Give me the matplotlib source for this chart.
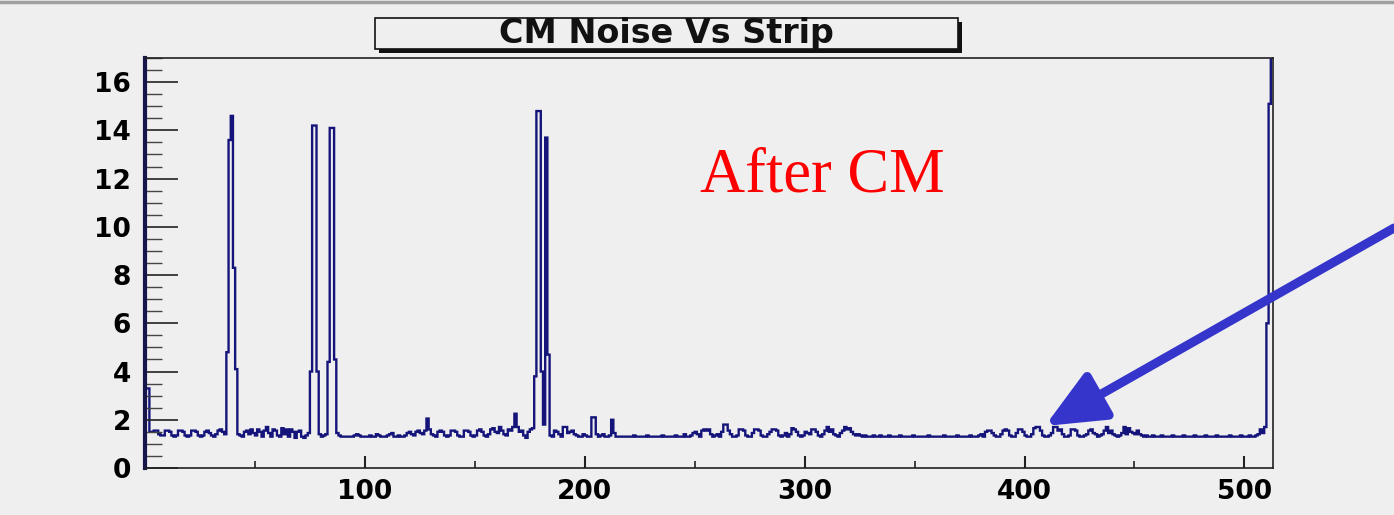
import numpy as np
import matplotlib
matplotlib.use("Agg")
import matplotlib.pyplot as plt
from matplotlib.patches import Rectangle, FancyArrowPatch, ArrowStyle
from matplotlib.lines import Line2D
from matplotlib.ticker import MultipleLocator

# CM noise per strip, strips 0..512
noise_000 = [3.3, 3.3, 1.5, 1.5, 1.55, 1.55, 1.4, 1.35, 1.35, 1.55, 1.55, 1.5, 1.35, 1.3, 1.35, 1.55, 1.55, 1.5, 1.35, 1.3,
             1.35, 1.55, 1.55, 1.5, 1.35, 1.3, 1.35, 1.5, 1.55, 1.45, 1.35, 1.3, 1.4, 1.55, 1.6, 1.5, 1.4, 4.8, 13.6, 14.6,
             8.3, 4.1, 1.4, 1.35, 1.3, 1.5, 1.55, 1.4, 1.6, 1.45, 1.35, 1.6, 1.5, 1.3, 1.55, 1.7, 1.45, 1.3, 1.6, 1.55,
             1.35, 1.3, 1.65, 1.4, 1.6, 1.3, 1.6, 1.5, 1.25, 1.5, 1.55, 1.3, 1.25, 1.35, 1.45, 4.0, 14.2, 14.2, 4.0, 1.4,
             1.3, 1.35, 1.4, 4.4, 14.1, 14.1, 4.5, 1.45, 1.35, 1.3, 1.3, 1.3, 1.3, 1.3, 1.3, 1.35, 1.4, 1.35, 1.3, 1.3]
noise_100 = [1.3, 1.3, 1.35, 1.3, 1.3, 1.4, 1.35, 1.3, 1.3, 1.3, 1.35, 1.4, 1.45, 1.3, 1.3, 1.35, 1.3, 1.3, 1.35, 1.45,
             1.5, 1.4, 1.35, 1.5, 1.55, 1.45, 1.4, 1.55, 2.05, 1.6, 1.4, 1.35, 1.3, 1.5, 1.55, 1.5, 1.35, 1.3, 1.35, 1.55,
             1.55, 1.5, 1.35, 1.3, 1.3, 1.55, 1.55, 1.5, 1.35, 1.3, 1.35, 1.55, 1.6, 1.5, 1.35, 1.3, 1.4, 1.6, 1.65, 1.5,
             1.45, 1.7, 1.55, 1.4, 1.35, 1.6, 1.55, 1.7, 2.25, 1.7, 1.5, 1.55, 1.35, 1.25, 1.5, 1.6, 1.65, 3.8, 14.8, 14.8,
             4.0, 1.8, 13.7, 4.7, 1.35, 1.3, 1.55, 1.5, 1.4, 1.3, 1.7, 1.7, 1.45, 1.5, 1.55, 1.4, 1.35, 1.3, 1.3, 1.4]
noise_200 = [1.35, 1.3, 1.3, 2.1, 2.1, 1.4, 1.3, 1.35, 1.4, 1.3, 1.3, 1.35, 2.0, 1.45, 1.3, 1.3, 1.3, 1.3, 1.3, 1.3,
             1.3, 1.3, 1.35, 1.3, 1.3, 1.3, 1.3, 1.3, 1.35, 1.3, 1.3, 1.3, 1.3, 1.3, 1.3, 1.35, 1.3, 1.3, 1.3, 1.3,
             1.3, 1.35, 1.3, 1.3, 1.3, 1.4, 1.3, 1.3, 1.35, 1.45, 1.5, 1.4, 1.3, 1.55, 1.6, 1.55, 1.6, 1.4, 1.3, 1.35,
             1.4, 1.3, 1.5, 1.8, 1.8, 1.55, 1.4, 1.3, 1.3, 1.35, 1.6, 1.6, 1.55, 1.35, 1.3, 1.3, 1.45, 1.6, 1.6, 1.55,
             1.35, 1.3, 1.3, 1.4, 1.5, 1.6, 1.6, 1.55, 1.35, 1.3, 1.35, 1.45, 1.3, 1.4, 1.65, 1.6, 1.5, 1.35, 1.3, 1.35]
noise_300 = [1.5, 1.45, 1.4, 1.6, 1.6, 1.5, 1.35, 1.3, 1.4, 1.55, 1.7, 1.5, 1.6, 1.4, 1.35, 1.3, 1.45, 1.55, 1.7, 1.6,
             1.65, 1.5, 1.4, 1.35, 1.4, 1.35, 1.3, 1.35, 1.3, 1.3, 1.3, 1.35, 1.3, 1.3, 1.35, 1.3, 1.3, 1.3, 1.35, 1.3,
             1.3, 1.3, 1.3, 1.35, 1.3, 1.3, 1.3, 1.3, 1.3, 1.35, 1.3, 1.3, 1.3, 1.3, 1.3, 1.3, 1.35, 1.3, 1.3, 1.3,
             1.3, 1.3, 1.3, 1.35, 1.3, 1.3, 1.3, 1.3, 1.3, 1.35, 1.3, 1.3, 1.3, 1.3, 1.3, 1.35, 1.3, 1.3, 1.3, 1.35,
             1.4, 1.3, 1.5, 1.55, 1.55, 1.45, 1.35, 1.3, 1.3, 1.4, 1.55, 1.6, 1.55, 1.35, 1.3, 1.3, 1.45, 1.6, 1.6, 1.5]
noise_400 = [1.35, 1.3, 1.3, 1.4, 1.65, 1.7, 1.7, 1.55, 1.35, 1.3, 1.3, 1.35, 1.45, 1.7, 1.7, 1.55, 1.6, 1.4, 1.3, 1.3,
             1.35, 1.6, 1.6, 1.55, 1.35, 1.3, 1.3, 1.35, 1.4, 1.55, 1.6, 1.45, 1.4, 1.3, 1.35, 1.4, 1.55, 1.7, 1.45, 1.55,
             1.4, 1.35, 1.3, 1.35, 1.45, 1.7, 1.4, 1.65, 1.5, 1.45, 1.4, 1.55, 1.4, 1.35, 1.3, 1.35, 1.3, 1.3, 1.35, 1.3,
             1.3, 1.3, 1.35, 1.3, 1.3, 1.3, 1.3, 1.35, 1.3, 1.3, 1.3, 1.3, 1.35, 1.3, 1.3, 1.3, 1.3, 1.35, 1.3, 1.3,
             1.3, 1.3, 1.35, 1.3, 1.3, 1.3, 1.3, 1.35, 1.3, 1.3, 1.3, 1.3, 1.3, 1.35, 1.3, 1.3, 1.3, 1.3, 1.35, 1.3]
noise_500 = [1.3, 1.3, 1.35, 1.3, 1.3, 1.35, 1.4, 1.6, 1.45, 1.7, 6.0, 15.1, 20.0]

noise = np.array(noise_000 + noise_100 + noise_200 + noise_300 + noise_400 + noise_500)
edges = np.arange(len(noise) + 1)

bg = "#efefef"
fig = plt.figure(figsize=(13.94, 5.15), dpi=100, facecolor=bg)
ax = fig.add_axes([145 / 1394, 1 - 468 / 515, 1128 / 1394, 410 / 515])
ax.set_facecolor(bg)

ax.stairs(noise, edges, color="#14147a", linewidth=1.7, baseline=None)

ax.set_xlim(0, 513)
ax.set_ylim(0, 17)

ax.xaxis.set_major_locator(MultipleLocator(100))
ax.xaxis.set_minor_locator(MultipleLocator(50))
ax.yaxis.set_major_locator(MultipleLocator(2))
ax.yaxis.set_minor_locator(MultipleLocator(0.5))
ax.set_xticks([100, 200, 300, 400, 500])

ax.tick_params(axis="y", which="major", direction="in", length=24, width=1.2, color="#222222", pad=10)
ax.tick_params(axis="y", which="minor", direction="in", length=12, width=1.0, color="#444444")
ax.tick_params(axis="x", which="major", direction="in", length=9, width=1.5, color="#222222", pad=8)
ax.tick_params(axis="x", which="minor", direction="in", length=5, width=1.2, color="#222222")
for lab in ax.get_xticklabels() + ax.get_yticklabels():
    lab.set_fontweight("bold")
    lab.set_fontsize(19)
    lab.set_family("DejaVu Sans")

for s in ["top", "right", "bottom"]:
    ax.spines[s].set_linewidth(1.2)
    ax.spines[s].set_color("#222222")
ax.spines["left"].set_linewidth(3)
ax.spines["left"].set_color("#16164a")

# title box with shadow
fig.add_artist(Rectangle((379 / 1394, 1 - 53 / 515), 583 / 1394, 31 / 515,
                         transform=fig.transFigure, facecolor="#111111", edgecolor="none"))
fig.add_artist(Rectangle((375 / 1394, 1 - 49 / 515), 583 / 1394, 31 / 515,
                         transform=fig.transFigure, facecolor=bg, edgecolor="#111111", linewidth=1.2))
fig.text(666 / 1394, 1 - 34 / 515, "CM Noise Vs Strip", ha="center", va="center",
         fontsize=24, fontweight="bold", family="DejaVu Sans", color="#111111")

# annotation
ax.text((822 - 145) / 1128, (468 - 192) / 410, "After CM", transform=ax.transAxes,
        ha="center", va="baseline", fontsize=45, family="Liberation Serif", color="#ff0000")

arrow = FancyArrowPatch((1.0, 1 - 228 / 515), (1045 / 1394, 1 - 426 / 515),
                        transform=fig.transFigure,
                        arrowstyle=ArrowStyle("-|>", head_length=36, head_width=16),
                        mutation_scale=1, color="#3535cc", linewidth=6.5, shrinkA=0, shrinkB=0)
fig.add_artist(arrow)

# thin grey frame line at top of the slide
fig.add_artist(Line2D([0, 1], [1 - 1.5 / 515, 1 - 1.5 / 515], transform=fig.transFigure,
                      color="#a0a0a0", linewidth=2.5))

fig.savefig("out.png", dpi=100, facecolor=bg)
